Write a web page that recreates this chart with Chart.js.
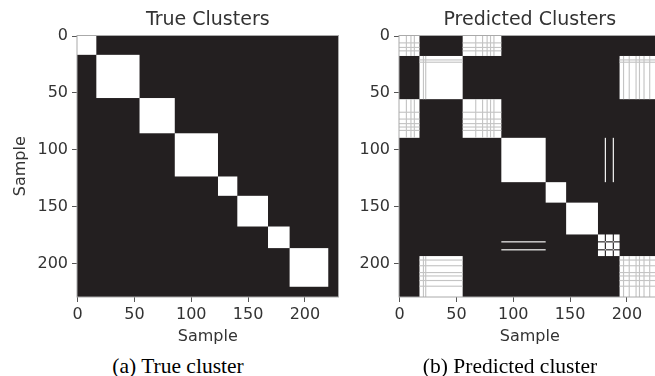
<!DOCTYPE html>
<html>
<head>
<meta charset="utf-8">
<script src="https://cdn.jsdelivr.net/npm/chart.js@4.4.1/dist/chart.umd.min.js"></script>
<style>
  html, body { margin: 0; padding: 0; background: #fff; overflow: hidden; }
  body { width: 655px; height: 376px; position: relative; }
  canvas { position: absolute; top: 0; }
  #trueChart { left: 0; }
  #predChart { left: 322px; }
  .caption {
    position: absolute; top: 354px; line-height: 24px;
    font-family: "Liberation Serif", "Times New Roman", serif; font-size: 21.5px;
    color: #000; white-space: nowrap; transform: translateX(-50%);
  }
</style>
</head>
<body>
<canvas id="trueChart" width="345" height="346"></canvas>
<canvas id="predChart" width="345" height="346"></canvas>
<div class="caption" style="left:178px">(a) True cluster</div>
<div class="caption" style="left:510px">(b) Predicted cluster</div>
<script>
const N_SAMPLES = 230;
const axisTicks = [0, 50, 100, 150, 200];

// ground truth: cluster k = samples trueEdges[k] .. trueEdges[k+1]-1, the rest is unlabelled
const trueEdges = [0, 17, 55, 86, 124, 141, 168, 187, 221];

// predicted: runs of consecutive samples and the cluster each run ended up in
const predRunStart = [0, 18, 56, 90, 129, 147, 175, 181, 182, 188, 189, 194];
const predRunCluster = [0, 1, 0, 2, 3, 4, 5, 2, 5, 2, 5, 1];
// samples whose co-assignment is weaker (the grey stripes)
const predWeak = [6, 10, 13, 21, 23, 67, 73, 77, 80, 83, 197, 202, 208, 211, 215, 220];

const DARK = '#231f20';
const WEAK = '#c4c4c4';
const TEXT = '#333333';
const FONT = '"DejaVu Sans", sans-serif';

function trueLabels() {
  const out = new Array(N_SAMPLES).fill(null);
  for (let k = 0; k + 1 < trueEdges.length; k++) {
    for (let i = trueEdges[k]; i < trueEdges[k + 1]; i++) out[i] = k;
  }
  return out;
}

function predLabels() {
  const out = new Array(N_SAMPLES).fill(null);
  predRunStart.forEach((start, k) => {
    const end = k + 1 < predRunStart.length ? predRunStart[k + 1] : N_SAMPLES;
    for (let i = start; i < end; i++) out[i] = predRunCluster[k];
  });
  return out;
}

// group consecutive samples with the same label
function runsOf(labels) {
  const runs = [];
  labels.forEach((lab, i) => {
    const last = runs[runs.length - 1];
    if (last && last.label === lab) last.end = i;
    else runs.push({ label: lab, start: i, end: i });
  });
  return runs;
}

// draws the co-assignment matrix: white where row and column sample share a cluster
const coMatrix = {
  id: 'coMatrix',
  beforeDatasetsDraw(chart, args, opts) {
    const { ctx, chartArea: a, scales: { x, y } } = chart;
    const labels = opts.labels;
    const runs = runsOf(labels);
    const cell = (r0, r1, c0, c1) => {
      const px0 = x.getPixelForValue(c0 - 0.5), px1 = x.getPixelForValue(c1 + 0.5);
      const py0 = y.getPixelForValue(r0 - 0.5), py1 = y.getPixelForValue(r1 + 0.5);
      ctx.fillRect(px0, py0, px1 - px0, py1 - py0);
    };
    ctx.save();
    ctx.beginPath();
    ctx.rect(a.left, a.top, a.width, a.height);
    ctx.clip();
    ctx.fillStyle = DARK;
    ctx.fillRect(a.left, a.top, a.width, a.height);
    ctx.fillStyle = '#ffffff';
    runs.forEach(r => runs.forEach(c => {
      if (r.label !== null && r.label === c.label) cell(r.start, r.end, c.start, c.end);
    }));
    ctx.fillStyle = WEAK;
    (opts.weak || []).forEach(s => runs.forEach(c => {
      if (c.label === labels[s]) {
        cell(s, s, c.start, c.end);
        cell(c.start, c.end, s, s);
      }
    }));
    ctx.restore();
  },
  afterDraw(chart) {
    const { ctx, chartArea: a } = chart;
    ctx.save();
    ctx.strokeStyle = '#aaaaaa';
    ctx.lineWidth = 1;
    ctx.strokeRect(a.left, a.top, a.width, a.height);
    ctx.restore();
  }
};

const axis = (dir, showTitle) => ({
  type: 'linear',
  position: dir === 'x' ? 'bottom' : 'left',
  min: -0.5,
  max: N_SAMPLES - 0.5,
  reverse: dir === 'y',
  afterBuildTicks: s => { s.ticks = axisTicks.map(v => ({ value: v })); },
  afterFit: s => {
    if (dir === 'x') s.height = 49;
    else s.width = 77;
  },
  grid: { drawOnChartArea: false, drawTicks: true, tickLength: 5, color: '#555555' },
  border: { display: false },
  ticks: {
    color: TEXT, font: { family: FONT, size: 16 },
    padding: dir === 'x' ? 3 : 4, maxRotation: 0, autoSkip: false
  },
  title: {
    display: showTitle, text: 'Sample', color: TEXT,
    font: { family: FONT, size: 16 },
    padding: dir === 'x' ? { top: 0, bottom: 0 } : { top: 11, bottom: 0 }
  }
});

function makeChart(id, title, labels, weak, yTitle) {
  return new Chart(document.getElementById(id), {
    type: 'scatter',
    data: { datasets: [{ data: [] }] },
    options: {
      responsive: false,
      animation: false,
      events: [],
      layout: { padding: { left: 0, right: 6.5, top: 0, bottom: 0 } },
      plugins: {
        legend: { display: false },
        tooltip: { enabled: false },
        title: {
          display: true, text: title, fullSize: false, color: TEXT,
          font: { family: FONT, size: 19, weight: 'normal' },
          padding: { top: 8.5, bottom: 4.2 }
        },
        coMatrix: { labels, weak }
      },
      scales: { x: axis('x', true), y: axis('y', yTitle) }
    },
    plugins: [coMatrix]
  });
}

makeChart('trueChart', 'True Clusters', trueLabels(), [], true);
makeChart('predChart', 'Predicted Clusters', predLabels(), predWeak, false);
</script>
</body>
</html>
